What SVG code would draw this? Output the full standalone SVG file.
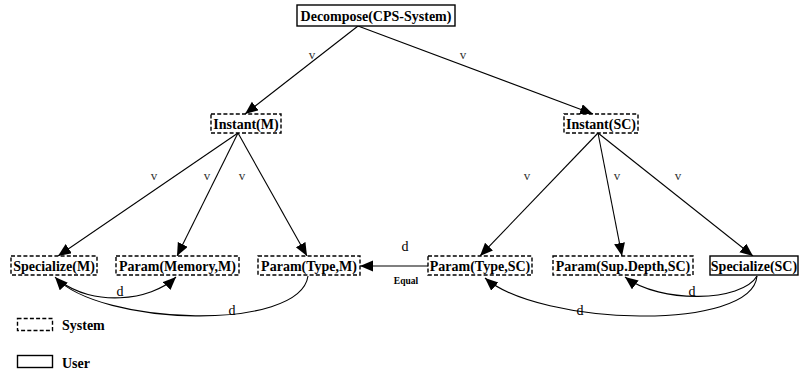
<svg xmlns="http://www.w3.org/2000/svg" width="799" height="376" viewBox="0 0 799 376">
  <style>
    .box { fill: #fff; stroke: #000; stroke-width: 1.4; }
    .sys { stroke-dasharray: 4 2.2; }
    .lbl { font-family: "Liberation Serif", serif; font-weight: bold; font-size: 14px; fill: #000; text-anchor: middle; }
    .edge { fill: none; stroke: #000; stroke-width: 1.1; }
    .arr { marker-end: url(#head); }
    .ev { font-family: "Liberation Serif", serif; font-size: 13px; fill: #333; text-anchor: middle; }
    .ed { font-family: "Liberation Serif", serif; font-size: 14px; fill: #000; text-anchor: middle; }
    .eq { font-family: "Liberation Serif", serif; font-weight: bold; font-size: 9.5px; fill: #000; text-anchor: middle; }
    .leg { font-family: "Liberation Serif", serif; font-weight: bold; font-size: 14px; fill: #000; }
  </style>
  <defs>
    <marker id="head" markerUnits="userSpaceOnUse" markerWidth="14" markerHeight="12" refX="13" refY="5.5" orient="auto">
      <path d="M0,0 L13,5.5 L0,11 Z" fill="#000"/>
    </marker>
  </defs>

  <!-- connectors -->
  <g id="connectors">
    <path class="edge arr" d="M358,26 L245,114"/>
    <path class="edge arr" d="M358,26 L593,114"/>
    <path class="edge arr" d="M238,133 L58,256"/>
    <path class="edge arr" d="M238,133 L177,256"/>
    <path class="edge arr" d="M238,133 L307,256"/>
    <path class="edge arr" d="M598,133 L480,256"/>
    <path class="edge arr" d="M598,133 L622,256"/>
    <path class="edge arr" d="M598,133 L753,256"/>
    <path class="edge arr" d="M428,266 L360,266"/>
    <path class="edge arr" d="M60,281 C92,306 150,302 176,277"/>
    <path class="edge arr" d="M308,276 C300,332 100,326 55,277"/>
    <path class="edge arr" d="M757,276 C742,302 660,304 625,277"/>
    <path class="edge arr" d="M757,276 C752,332 540,326 485,278"/>
    <text class="ev" x="312" y="59">v</text>
    <text class="ev" x="463" y="59">v</text>
    <text class="ev" x="154" y="180">v</text>
    <text class="ev" x="207" y="180">v</text>
    <text class="ev" x="242" y="180">v</text>
    <text class="ev" x="527" y="180">v</text>
    <text class="ev" x="617" y="180">v</text>
    <text class="ev" x="678" y="180">v</text>
    <text class="ed" x="405" y="251">d</text>
    <text class="eq" x="406" y="284">Equal</text>
    <text class="ed" x="120" y="296">d</text>
    <text class="ed" x="232" y="315">d</text>
    <text class="ed" x="692" y="296">d</text>
    <text class="ed" x="580" y="315">d</text>
  </g>

  <g id="decompose">
    <rect class="box" x="297" y="5" width="158" height="21"/>
    <text class="lbl" x="376" y="20.5">Decompose(CPS-System)</text>
  </g>
  <g id="instant-m">
    <rect class="box sys" x="211" y="114" width="70" height="19"/>
    <text class="lbl" x="246" y="128.5">Instant(M)</text>
  </g>
  <g id="instant-sc">
    <rect class="box sys" x="564" y="114" width="74" height="19"/>
    <text class="lbl" x="601" y="128.5">Instant(SC)</text>
  </g>
  <g id="specialize-m">
    <rect class="box sys" x="11" y="256" width="86" height="19"/>
    <text class="lbl" x="54" y="270.5">Specialize(M)</text>
  </g>
  <g id="param-memory-m">
    <rect class="box sys" x="116" y="256" width="123" height="19"/>
    <text class="lbl" x="177.5" y="270.5">Param(Memory,M)</text>
  </g>
  <g id="param-type-m">
    <rect class="box sys" x="258" y="256" width="102" height="19"/>
    <text class="lbl" x="309" y="270.5">Param(Type,M)</text>
  </g>
  <g id="param-type-sc">
    <rect class="box sys" x="428" y="256" width="104" height="19"/>
    <text class="lbl" x="480" y="270.5">Param(Type,SC)</text>
  </g>
  <g id="param-supdepth-sc">
    <rect class="box sys" x="553" y="256" width="140" height="19"/>
    <text class="lbl" x="623" y="270.5">Param(Sup.Depth,SC)</text>
  </g>
  <g id="specialize-sc">
    <rect class="box" x="710" y="256" width="88" height="19"/>
    <text class="lbl" x="754" y="270.5">Specialize(SC)</text>
  </g>

  <!-- legend -->
  <g id="legend">
    <rect class="box sys" x="17.5" y="318.5" width="35" height="12"/>
    <text class="leg" x="62" y="330">System</text>
    <rect class="box" x="17.5" y="355.5" width="35" height="12"/>
    <text class="leg" x="62" y="368">User</text>
  </g>
</svg>
